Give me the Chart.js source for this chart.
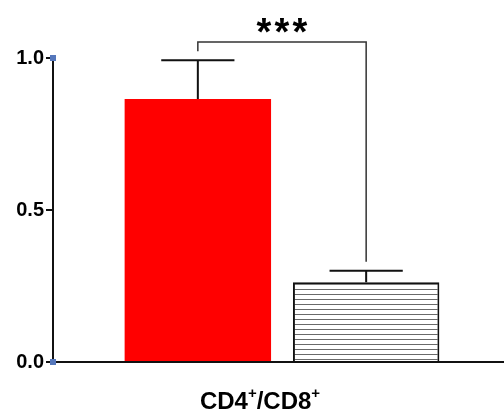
<!DOCTYPE html>
<html>
<head>
<meta charset="utf-8">
<script src="https://cdn.jsdelivr.net/npm/chart.js@4"></script>
<style>
  html, body { margin: 0; padding: 0; background: #fff; overflow: hidden; }
  #wrap { width: 511px; height: 415px; }
</style>
</head>
<body>
<div id="wrap"><canvas id="ratioChart"></canvas></div>
<script>
// group values (CD4+/CD8+ ratio) and upper error (SEM)
var groups = ['Control', 'Treated'];
var means = [0.865, 0.262];
var errors = [0.128, 0.038];
var yTicks = [0, 0.5, 1.0];
// significance bracket: top, left leg end, right leg end (axis units)
var bracket = [1.053, 1.022, 0.33];
var sigText = '***';

// white fill with thin horizontal grey lines
function stripes() {
    var c = document.createElement('canvas');
    c.width = 8; c.height = 5;
    var g = c.getContext('2d');
    g.fillStyle = '#fff';
    g.fillRect(0, 0, 8, 5);
    g.fillStyle = '#6a6a6a';
    g.fillRect(0, 4, 8, 1);
    return g.createPattern(c, 'repeat');
}

var errorBars = {
    id: 'errorBars',
    afterDatasetsDraw: function (chart) {
        var ctx = chart.ctx;
        var y = chart.scales.y;
        ctx.save();
        ctx.strokeStyle = '#111';
        ctx.lineWidth = 2;
        var centers = [];
        chart.data.datasets.forEach(function (ds, i) {
            var bar = chart.getDatasetMeta(i).data[0];
            var x = bar.x;
            centers.push(x);
            var top = y.getPixelForValue(means[i] + errors[i]);
            var half = bar.width / 4;
            ctx.beginPath();
            ctx.moveTo(x, bar.y);
            ctx.lineTo(x, top);
            ctx.moveTo(x - half, top);
            ctx.lineTo(x + half, top);
            ctx.stroke();
        });

        // bracket between the two groups
        ctx.strokeStyle = '#333';
        ctx.lineWidth = 1.5;
        var yt = y.getPixelForValue(bracket[0]);
        ctx.beginPath();
        ctx.moveTo(centers[0], y.getPixelForValue(bracket[1]));
        ctx.lineTo(centers[0], yt);
        ctx.lineTo(centers[1], yt);
        ctx.lineTo(centers[1], y.getPixelForValue(bracket[2]));
        ctx.stroke();

        // stars, spaced apart one by one
        ctx.fillStyle = '#000';
        ctx.font = 'bold 38px "Liberation Sans", Arial, sans-serif';
        ctx.textAlign = 'center';
        ctx.textBaseline = 'alphabetic';
        var mid = (centers[0] + centers[1]) / 2;
        var n = sigText.length;
        for (var k = 0; k < n; k++) {
            ctx.fillText(sigText[k], mid + (k - (n - 1) / 2) * 18, 45);
        }

        // blue end markers on the y axis
        ctx.fillStyle = '#5577bb';
        [0, 1].forEach(function (v) {
            var py = y.getPixelForValue(v);
            ctx.fillRect(y.right - 3, py - 3, 6, 6);
        });

        // axis title with superscripts
        var parts = [['CD4', 0], ['+', 1], ['/CD8', 0], ['+', 1]];
        var big = 'bold 24px "Liberation Sans", Arial, sans-serif';
        var small = 'bold 15px "Liberation Sans", Arial, sans-serif';
        var w = 0;
        parts.forEach(function (p) {
            ctx.font = p[1] ? small : big;
            w += ctx.measureText(p[0]).width;
        });
        var x0 = 260 - w / 2;
        var base = 409;
        ctx.textAlign = 'left';
        ctx.fillStyle = '#000';
        parts.forEach(function (p) {
            ctx.font = p[1] ? small : big;
            ctx.fillText(p[0], x0, p[1] ? base - 11 : base);
            x0 += ctx.measureText(p[0]).width;
        });
        ctx.restore();
    }
};

var ctx = document.getElementById('ratioChart').getContext('2d');
var ratioChart = new Chart(ctx, {
    type: 'bar',
    data: {
        labels: ['CD4+/CD8+'],
        datasets: [{
            label: groups[0],
            data: [means[0]],
            backgroundColor: '#ff0000',
            borderWidth: 0
        }, {
            label: groups[1],
            data: [means[1]],
            backgroundColor: stripes(),
            borderColor: '#111',
            borderWidth: 2
        }]
    },
    options: {
        responsive: true,
        maintainAspectRatio: false,
        animation: false,
        categoryPercentage: 0.735,
        barPercentage: 0.87,
        layout: { padding: { top: 58, left: 0, right: 0, bottom: 0 } },
        plugins: {
            legend: { display: false },
            tooltip: { enabled: false }
        },
        scales: {
            x: {
                grid: { display: false },
                border: { color: '#111', width: 2 },
                ticks: { display: false },
                afterFit: function (s) { s.height = 53; }
            },
            y: {
                min: 0,
                max: 1,
                afterBuildTicks: function (s) {
                    s.ticks = yTicks.map(function (v) { return { value: v }; });
                },
                afterFit: function (s) { s.width = 53; },
                grid: { drawOnChartArea: false, tickLength: 7, color: '#111', lineWidth: 2 },
                border: { color: '#111', width: 2 },
                ticks: {
                    padding: 2,
                    color: '#000',
                    font: { family: '"Liberation Sans", Arial, sans-serif', size: 20, weight: 'bold' },
                    callback: function (v) { return Number(v).toFixed(1); }
                }
            }
        }
    },
    plugins: [errorBars]
});
</script>
</body>
</html>
